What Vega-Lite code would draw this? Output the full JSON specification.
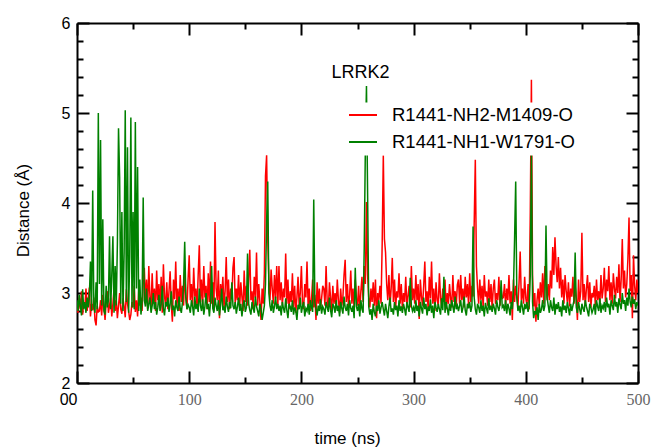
{
"$schema": "https://vega.github.io/schema/vega-lite/v6.json",
"width": 561, "height": 360,
"autosize": {"type": "none"},
"padding": {"left": 77, "top": 23, "right": 24, "bottom": 65},
"background": "white",
"config": {"view": {"stroke": null}, "font": "Liberation Sans"},
"title": {"text": "LRRK2", "fontSize": 18, "fontWeight": "normal", "font": "Liberation Sans", "color": "black", "anchor": "middle", "frame": "group", "baseline": "alphabetic", "offset": 0, "dy": 81, "dx": 3},
"data": {"values": [
{"t":0,"a":2.85,"b":2.92},{"t":1,"a":2.78,"b":2.80},{"t":2,"a":2.95,"b":2.98},{"t":3,"a":2.82,"b":2.86},{"t":4,"a":3.02,"b":2.75},{"t":5,"a":2.76,"b":3.04},{"t":6,"a":2.90,"b":2.82},{"t":7,"a":2.84,"b":2.90},{"t":8,"a":3.05,"b":2.78},{"t":9,"a":2.80,"b":2.95},
{"t":10,"a":2.92,"b":2.84},{"t":11,"a":3.06,"b":2.96},{"t":12,"a":2.74,"b":3.35},{"t":13,"a":2.88,"b":2.80},{"t":14,"a":2.81,"b":4.14},{"t":15,"a":2.95,"b":2.85},{"t":16,"a":2.70,"b":2.78},{"t":17,"a":2.64,"b":3.12},{"t":18,"a":2.86,"b":2.82},{"t":19,"a":2.79,"b":5.00},
{"t":20,"a":2.80,"b":3.10},{"t":21,"a":2.92,"b":4.70},{"t":22,"a":2.75,"b":2.86},{"t":23,"a":2.98,"b":3.82},{"t":24,"a":2.84,"b":2.80},{"t":25,"a":2.70,"b":2.76},{"t":26,"a":2.90,"b":3.08},{"t":27,"a":3.02,"b":2.84},{"t":28,"a":2.78,"b":2.92},{"t":29,"a":2.86,"b":3.63},
{"t":30,"a":2.95,"b":2.82},{"t":31,"a":2.74,"b":3.20},{"t":32,"a":2.88,"b":3.63},{"t":33,"a":3.05,"b":2.78},{"t":34,"a":2.80,"b":3.30},{"t":35,"a":2.92,"b":2.86},{"t":36,"a":2.72,"b":3.55},{"t":37,"a":2.86,"b":4.83},{"t":38,"a":3.00,"b":4.29},{"t":39,"a":2.82,"b":2.88},
{"t":40,"a":2.77,"b":3.90},{"t":41,"a":2.94,"b":2.80},{"t":42,"a":2.85,"b":3.45},{"t":43,"a":2.73,"b":5.03},{"t":44,"a":3.04,"b":2.90},{"t":45,"a":2.88,"b":4.62},{"t":46,"a":2.80,"b":2.78},{"t":47,"a":2.70,"b":3.40},{"t":48,"a":2.76,"b":4.95},{"t":49,"a":2.90,"b":2.84},
{"t":50,"a":2.84,"b":3.90},{"t":51,"a":3.08,"b":2.82},{"t":52,"a":2.79,"b":4.90},{"t":53,"a":2.92,"b":3.05},{"t":54,"a":2.74,"b":4.40},{"t":55,"a":3.02,"b":2.80},{"t":56,"a":2.86,"b":3.15},{"t":57,"a":2.95,"b":2.76},{"t":58,"a":2.80,"b":2.90},{"t":59,"a":3.10,"b":4.06},
{"t":60,"a":3.28,"b":2.92},{"t":61,"a":2.90,"b":2.85},{"t":62,"a":3.15,"b":3.05},{"t":63,"a":2.82,"b":2.80},{"t":64,"a":3.30,"b":2.88},{"t":65,"a":2.95,"b":2.95},{"t":66,"a":2.85,"b":2.78},{"t":67,"a":3.22,"b":2.86},{"t":68,"a":2.88,"b":3.00},{"t":69,"a":3.05,"b":2.82},
{"t":70,"a":2.80,"b":2.90},{"t":71,"a":3.25,"b":2.76},{"t":72,"a":2.92,"b":2.84},{"t":73,"a":3.10,"b":2.98},{"t":74,"a":2.84,"b":2.80},{"t":75,"a":3.18,"b":2.87},{"t":76,"a":2.78,"b":3.08},{"t":77,"a":3.32,"b":2.83},{"t":78,"a":2.96,"b":2.75},{"t":79,"a":2.86,"b":2.90},
{"t":80,"a":3.12,"b":2.85},{"t":81,"a":2.82,"b":2.95},{"t":82,"a":3.02,"b":2.79},{"t":83,"a":3.24,"b":2.88},{"t":84,"a":2.88,"b":3.02},{"t":85,"a":2.68,"b":2.81},{"t":86,"a":3.15,"b":2.86},{"t":87,"a":2.93,"b":2.74},{"t":88,"a":3.35,"b":2.92},{"t":89,"a":2.85,"b":2.84},
{"t":90,"a":3.05,"b":2.80},{"t":91,"a":2.80,"b":2.96},{"t":92,"a":3.20,"b":2.83},{"t":93,"a":2.90,"b":2.78},{"t":94,"a":3.08,"b":2.90},{"t":95,"a":2.86,"b":3.10},{"t":96,"a":3.26,"b":3.57},{"t":97,"a":2.95,"b":2.95},{"t":98,"a":2.82,"b":2.82},{"t":99,"a":3.15,"b":2.87},
{"t":100,"a":3.42,"b":2.84},{"t":101,"a":2.92,"b":2.78},{"t":102,"a":3.10,"b":2.92},{"t":103,"a":2.85,"b":2.85},{"t":104,"a":3.28,"b":2.75},{"t":105,"a":2.96,"b":2.96},{"t":106,"a":3.05,"b":2.82},{"t":107,"a":2.83,"b":2.88},{"t":108,"a":3.20,"b":2.79},{"t":109,"a":3.53,"b":3.05},
{"t":110,"a":2.90,"b":2.86},{"t":111,"a":3.15,"b":2.80},{"t":112,"a":2.86,"b":2.93},{"t":113,"a":3.30,"b":2.76},{"t":114,"a":2.95,"b":2.85},{"t":115,"a":3.08,"b":3.00},{"t":116,"a":2.82,"b":2.82},{"t":117,"a":3.22,"b":2.88},{"t":118,"a":2.90,"b":2.74},{"t":119,"a":3.35,"b":2.90},
{"t":120,"a":2.88,"b":3.30},{"t":121,"a":3.12,"b":2.83},{"t":122,"a":2.80,"b":2.78},{"t":123,"a":3.79,"b":2.95},{"t":124,"a":3.05,"b":2.86},{"t":125,"a":2.92,"b":2.80},{"t":126,"a":3.25,"b":2.92},{"t":127,"a":2.72,"b":2.75},{"t":128,"a":3.10,"b":2.87},{"t":129,"a":2.96,"b":3.05},
{"t":130,"a":3.18,"b":2.81},{"t":131,"a":2.84,"b":2.84},{"t":132,"a":3.02,"b":2.78},{"t":133,"a":3.40,"b":2.96},{"t":134,"a":2.90,"b":2.85},{"t":135,"a":3.15,"b":2.79},{"t":136,"a":2.82,"b":2.90},{"t":137,"a":3.05,"b":2.83},{"t":138,"a":2.95,"b":3.12},{"t":139,"a":3.28,"b":2.86},
{"t":140,"a":3.40,"b":2.82},{"t":141,"a":2.88,"b":2.90},{"t":142,"a":3.05,"b":2.77},{"t":143,"a":2.92,"b":2.85},{"t":144,"a":3.20,"b":2.95},{"t":145,"a":2.84,"b":2.80},{"t":146,"a":3.12,"b":2.88},{"t":147,"a":2.96,"b":2.74},{"t":148,"a":2.80,"b":2.86},{"t":149,"a":3.25,"b":2.92},
{"t":150,"a":2.90,"b":2.79},{"t":151,"a":3.08,"b":2.84},{"t":152,"a":2.86,"b":3.44},{"t":153,"a":3.15,"b":2.88},{"t":154,"a":3.48,"b":2.81},{"t":155,"a":2.92,"b":2.76},{"t":156,"a":3.02,"b":2.90},{"t":157,"a":2.82,"b":2.83},{"t":158,"a":3.18,"b":2.78},{"t":159,"a":2.95,"b":2.96},
{"t":160,"a":3.45,"b":2.85},{"t":161,"a":2.86,"b":2.80},{"t":162,"a":3.10,"b":2.74},{"t":163,"a":2.90,"b":2.88},{"t":164,"a":2.70,"b":2.82},{"t":165,"a":3.05,"b":2.70},{"t":166,"a":2.88,"b":2.78},{"t":167,"a":3.22,"b":2.86},{"t":168,"a":4.30,"b":3.10},{"t":169,"a":4.53,"b":3.80},
{"t":170,"a":3.60,"b":4.24},{"t":171,"a":3.15,"b":3.00},{"t":172,"a":2.92,"b":2.86},{"t":173,"a":3.26,"b":2.80},{"t":174,"a":3.05,"b":2.92},{"t":175,"a":2.88,"b":2.78},{"t":176,"a":3.20,"b":2.85},{"t":177,"a":2.94,"b":2.96},{"t":178,"a":3.30,"b":2.82},{"t":179,"a":2.86,"b":2.88},
{"t":180,"a":3.30,"b":2.80},{"t":181,"a":2.92,"b":2.86},{"t":182,"a":3.12,"b":2.75},{"t":183,"a":2.86,"b":2.90},{"t":184,"a":3.05,"b":2.83},{"t":185,"a":2.95,"b":2.78},{"t":186,"a":3.44,"b":2.94},{"t":187,"a":2.88,"b":2.81},{"t":188,"a":3.15,"b":2.72},{"t":189,"a":2.82,"b":2.88},
{"t":190,"a":3.02,"b":2.85},{"t":191,"a":2.90,"b":2.79},{"t":192,"a":3.22,"b":2.92},{"t":193,"a":2.84,"b":2.76},{"t":194,"a":3.08,"b":2.84},{"t":195,"a":2.78,"b":2.80},{"t":196,"a":2.95,"b":2.70},{"t":197,"a":3.18,"b":2.87},{"t":198,"a":2.86,"b":2.82},{"t":199,"a":3.00,"b":2.95},
{"t":200,"a":3.30,"b":2.78},{"t":201,"a":2.88,"b":2.85},{"t":202,"a":2.82,"b":2.90},{"t":203,"a":3.10,"b":2.74},{"t":204,"a":2.95,"b":2.83},{"t":205,"a":3.35,"b":2.80},{"t":206,"a":2.85,"b":2.88},{"t":207,"a":3.05,"b":2.76},{"t":208,"a":2.80,"b":2.92},{"t":209,"a":2.92,"b":2.84},
{"t":210,"a":3.15,"b":2.79},{"t":211,"a":2.84,"b":4.04},{"t":212,"a":2.98,"b":2.90},{"t":213,"a":2.70,"b":2.82},{"t":214,"a":3.12,"b":2.75},{"t":215,"a":2.88,"b":2.86},{"t":216,"a":3.05,"b":2.80},{"t":217,"a":2.82,"b":2.93},{"t":218,"a":2.94,"b":2.77},{"t":219,"a":3.08,"b":2.85},
{"t":220,"a":3.05,"b":2.82},{"t":221,"a":2.86,"b":2.76},{"t":222,"a":3.30,"b":2.90},{"t":223,"a":2.90,"b":2.84},{"t":224,"a":2.82,"b":2.79},{"t":225,"a":3.12,"b":2.95},{"t":226,"a":2.95,"b":2.81},{"t":227,"a":2.80,"b":2.73},{"t":228,"a":3.08,"b":2.88},{"t":229,"a":2.88,"b":2.85},
{"t":230,"a":3.00,"b":2.78},{"t":231,"a":2.84,"b":2.92},{"t":232,"a":3.15,"b":2.80},{"t":233,"a":2.92,"b":2.86},{"t":234,"a":2.78,"b":2.74},{"t":235,"a":3.05,"b":2.90},{"t":236,"a":2.86,"b":2.83},{"t":237,"a":2.96,"b":2.77},{"t":238,"a":3.20,"b":2.96},{"t":239,"a":3.37,"b":2.84},
{"t":240,"a":2.90,"b":2.80},{"t":241,"a":3.10,"b":2.88},{"t":242,"a":2.84,"b":2.75},{"t":243,"a":2.98,"b":2.92},{"t":244,"a":3.25,"b":2.83},{"t":245,"a":2.88,"b":2.79},{"t":246,"a":3.05,"b":2.86},{"t":247,"a":2.82,"b":2.72},{"t":248,"a":3.15,"b":3.28},{"t":249,"a":2.94,"b":2.85},
{"t":250,"a":2.86,"b":2.80},{"t":251,"a":3.08,"b":2.88},{"t":252,"a":2.80,"b":2.74},{"t":253,"a":3.02,"b":2.92},{"t":254,"a":3.18,"b":2.82},{"t":255,"a":2.90,"b":2.78},{"t":256,"a":3.30,"b":3.50},{"t":257,"a":3.10,"b":4.60},{"t":258,"a":4.01,"b":5.30},{"t":259,"a":3.20,"b":4.10},
{"t":260,"a":2.95,"b":2.85},{"t":261,"a":2.84,"b":2.76},{"t":262,"a":3.05,"b":2.82},{"t":263,"a":2.90,"b":2.70},{"t":264,"a":3.12,"b":2.88},{"t":265,"a":2.86,"b":2.79},{"t":266,"a":3.15,"b":2.74},{"t":267,"a":2.72,"b":2.86},{"t":268,"a":3.00,"b":2.80},{"t":269,"a":2.92,"b":2.92},
{"t":270,"a":3.08,"b":2.77},{"t":271,"a":2.88,"b":2.84},{"t":272,"a":3.55,"b":2.90},{"t":273,"a":4.53,"b":2.82},{"t":274,"a":3.60,"b":2.75},{"t":275,"a":3.45,"b":2.88},{"t":276,"a":3.10,"b":2.80},{"t":277,"a":2.92,"b":2.72},{"t":278,"a":3.20,"b":2.85},{"t":279,"a":2.86,"b":2.95},
{"t":280,"a":3.05,"b":2.79},{"t":281,"a":3.39,"b":2.83},{"t":282,"a":2.90,"b":2.76},{"t":283,"a":3.15,"b":2.90},{"t":284,"a":2.84,"b":2.81},{"t":285,"a":3.02,"b":2.86},{"t":286,"a":2.95,"b":2.74},{"t":287,"a":3.22,"b":2.92},{"t":288,"a":2.88,"b":2.80},{"t":289,"a":3.10,"b":2.85},
{"t":290,"a":2.82,"b":2.78},{"t":291,"a":3.00,"b":2.88},{"t":292,"a":2.90,"b":2.82},{"t":293,"a":3.18,"b":2.75},{"t":294,"a":2.86,"b":2.90},{"t":295,"a":2.96,"b":2.84},{"t":296,"a":3.08,"b":2.79},{"t":297,"a":2.84,"b":3.17},{"t":298,"a":3.30,"b":2.86},{"t":299,"a":2.92,"b":2.80},
{"t":300,"a":3.05,"b":2.84},{"t":301,"a":2.88,"b":2.78},{"t":302,"a":3.20,"b":2.92},{"t":303,"a":2.92,"b":2.80},{"t":304,"a":3.10,"b":2.86},{"t":305,"a":2.71,"b":2.74},{"t":306,"a":3.15,"b":2.90},{"t":307,"a":2.96,"b":2.83},{"t":308,"a":2.86,"b":2.77},{"t":309,"a":3.08,"b":2.95},
{"t":310,"a":3.35,"b":2.82},{"t":311,"a":2.90,"b":2.88},{"t":312,"a":3.02,"b":2.75},{"t":313,"a":2.82,"b":2.85},{"t":314,"a":3.18,"b":2.80},{"t":315,"a":2.94,"b":2.93},{"t":316,"a":3.35,"b":2.78},{"t":317,"a":2.88,"b":2.86},{"t":318,"a":3.05,"b":2.72},{"t":319,"a":2.80,"b":2.90},
{"t":320,"a":3.12,"b":2.84},{"t":321,"a":2.92,"b":2.79},{"t":322,"a":2.86,"b":2.88},{"t":323,"a":3.22,"b":2.82},{"t":324,"a":2.95,"b":2.76},{"t":325,"a":2.84,"b":2.94},{"t":326,"a":3.05,"b":2.81},{"t":327,"a":2.90,"b":3.18},{"t":328,"a":3.15,"b":2.78},{"t":329,"a":2.82,"b":2.90},
{"t":330,"a":3.00,"b":2.83},{"t":331,"a":2.88,"b":2.75},{"t":332,"a":3.10,"b":2.88},{"t":333,"a":2.94,"b":2.80},{"t":334,"a":2.84,"b":2.92},{"t":335,"a":3.20,"b":2.85},{"t":336,"a":2.90,"b":2.78},{"t":337,"a":3.02,"b":2.96},{"t":338,"a":2.86,"b":2.82},{"t":339,"a":3.09,"b":2.86},
{"t":340,"a":3.15,"b":2.80},{"t":341,"a":2.88,"b":2.86},{"t":342,"a":3.20,"b":2.92},{"t":343,"a":2.92,"b":2.78},{"t":344,"a":3.05,"b":2.84},{"t":345,"a":2.84,"b":2.96},{"t":346,"a":3.18,"b":2.81},{"t":347,"a":2.95,"b":2.75},{"t":348,"a":3.10,"b":2.88},{"t":349,"a":2.86,"b":2.83},
{"t":350,"a":3.22,"b":2.90},{"t":351,"a":2.90,"b":2.79},{"t":352,"a":3.08,"b":2.86},{"t":353,"a":2.96,"b":3.74},{"t":354,"a":3.77,"b":2.95},{"t":355,"a":4.48,"b":2.82},{"t":356,"a":3.30,"b":2.76},{"t":357,"a":3.05,"b":2.88},{"t":358,"a":2.88,"b":2.84},{"t":359,"a":3.15,"b":2.78},
{"t":360,"a":2.92,"b":2.92},{"t":361,"a":3.08,"b":2.80},{"t":362,"a":2.84,"b":2.86},{"t":363,"a":3.20,"b":2.74},{"t":364,"a":2.96,"b":2.89},{"t":365,"a":3.02,"b":2.83},{"t":366,"a":2.86,"b":2.77},{"t":367,"a":3.15,"b":2.94},{"t":368,"a":2.90,"b":2.81},{"t":369,"a":3.10,"b":2.86},
{"t":370,"a":2.82,"b":2.79},{"t":371,"a":3.05,"b":2.88},{"t":372,"a":3.15,"b":2.83},{"t":373,"a":2.88,"b":2.76},{"t":374,"a":3.00,"b":2.92},{"t":375,"a":2.92,"b":2.85},{"t":376,"a":3.18,"b":2.80},{"t":377,"a":2.86,"b":2.88},{"t":378,"a":3.05,"b":3.14},{"t":379,"a":2.94,"b":2.84},
{"t":380,"a":2.95,"b":2.86},{"t":381,"a":3.10,"b":2.80},{"t":382,"a":2.86,"b":2.92},{"t":383,"a":3.05,"b":2.77},{"t":384,"a":2.92,"b":2.88},{"t":385,"a":3.20,"b":2.83},{"t":386,"a":2.88,"b":2.75},{"t":387,"a":3.02,"b":2.90},{"t":388,"a":2.70,"b":2.82},{"t":389,"a":3.15,"b":3.05},
{"t":390,"a":2.90,"b":3.60},{"t":391,"a":3.08,"b":4.24},{"t":392,"a":2.96,"b":2.95},{"t":393,"a":2.85,"b":2.80},{"t":394,"a":3.12,"b":2.86},{"t":395,"a":3.46,"b":2.78},{"t":396,"a":2.92,"b":2.92},{"t":397,"a":3.05,"b":2.84},{"t":398,"a":2.88,"b":2.76},{"t":399,"a":3.18,"b":2.88},
{"t":400,"a":2.94,"b":2.82},{"t":401,"a":2.86,"b":2.90},{"t":402,"a":3.10,"b":2.79},{"t":403,"a":2.82,"b":2.86},{"t":404,"a":3.90,"b":3.20},{"t":405,"a":5.37,"b":4.54},{"t":406,"a":3.20,"b":2.90},{"t":407,"a":2.85,"b":2.72},{"t":408,"a":3.00,"b":2.80},{"t":409,"a":2.68,"b":2.76},
{"t":410,"a":2.92,"b":2.84},{"t":411,"a":3.05,"b":2.70},{"t":412,"a":2.86,"b":2.88},{"t":413,"a":3.12,"b":2.78},{"t":414,"a":2.95,"b":2.82},{"t":415,"a":3.22,"b":2.92},{"t":416,"a":2.88,"b":2.80},{"t":417,"a":3.30,"b":2.86},{"t":418,"a":3.15,"b":3.75},{"t":419,"a":2.92,"b":2.95},
{"t":420,"a":3.10,"b":2.86},{"t":421,"a":2.92,"b":2.78},{"t":422,"a":3.25,"b":2.92},{"t":423,"a":3.05,"b":2.84},{"t":424,"a":3.51,"b":2.80},{"t":425,"a":3.20,"b":2.95},{"t":426,"a":3.62,"b":2.76},{"t":427,"a":3.30,"b":2.88},{"t":428,"a":3.12,"b":2.82},{"t":429,"a":3.40,"b":2.90},
{"t":430,"a":3.05,"b":2.79},{"t":431,"a":3.28,"b":2.85},{"t":432,"a":2.95,"b":2.74},{"t":433,"a":3.15,"b":2.92},{"t":434,"a":2.88,"b":2.81},{"t":435,"a":3.20,"b":2.86},{"t":436,"a":3.02,"b":2.78},{"t":437,"a":2.90,"b":2.90},{"t":438,"a":3.12,"b":2.83},{"t":439,"a":2.85,"b":2.75},
{"t":440,"a":3.05,"b":2.88},{"t":441,"a":2.96,"b":2.80},{"t":442,"a":3.18,"b":2.86},{"t":443,"a":2.88,"b":2.92},{"t":444,"a":3.08,"b":3.45},{"t":445,"a":2.94,"b":2.84},{"t":446,"a":2.70,"b":2.78},{"t":447,"a":3.15,"b":2.90},{"t":448,"a":2.90,"b":2.82},{"t":449,"a":3.02,"b":2.76},
{"t":450,"a":3.67,"b":2.88},{"t":451,"a":2.92,"b":2.83},{"t":452,"a":3.10,"b":2.79},{"t":453,"a":2.86,"b":2.92},{"t":454,"a":3.05,"b":2.85},{"t":455,"a":3.20,"b":2.80},{"t":456,"a":2.90,"b":2.74},{"t":457,"a":3.12,"b":2.88},{"t":458,"a":2.84,"b":2.84},{"t":459,"a":3.00,"b":2.78},
{"t":460,"a":2.95,"b":2.82},{"t":461,"a":3.08,"b":2.88},{"t":462,"a":2.86,"b":2.76},{"t":463,"a":3.15,"b":2.92},{"t":464,"a":2.92,"b":2.85},{"t":465,"a":3.02,"b":2.80},{"t":466,"a":2.88,"b":2.94},{"t":467,"a":3.20,"b":2.78},{"t":468,"a":2.94,"b":2.86},{"t":469,"a":3.05,"b":2.83},
{"t":470,"a":3.28,"b":2.90},{"t":471,"a":2.90,"b":2.79},{"t":472,"a":3.15,"b":2.95},{"t":473,"a":3.02,"b":2.84},{"t":474,"a":3.30,"b":2.88},{"t":475,"a":2.92,"b":2.76},{"t":476,"a":3.12,"b":2.92},{"t":477,"a":2.88,"b":2.86},{"t":478,"a":3.22,"b":2.81},{"t":479,"a":3.05,"b":2.98},
{"t":480,"a":2.94,"b":2.85},{"t":481,"a":3.18,"b":2.90},{"t":482,"a":3.00,"b":2.78},{"t":483,"a":3.32,"b":2.94},{"t":484,"a":2.90,"b":2.87},{"t":485,"a":3.15,"b":2.82},{"t":486,"a":3.60,"b":3.00},{"t":487,"a":3.05,"b":2.88},{"t":488,"a":3.25,"b":2.92},{"t":489,"a":2.95,"b":2.80},
{"t":490,"a":3.10,"b":2.95},{"t":491,"a":3.38,"b":2.86},{"t":492,"a":3.84,"b":3.05},{"t":493,"a":3.02,"b":2.90},{"t":494,"a":3.20,"b":2.84},{"t":495,"a":2.72,"b":2.96},{"t":496,"a":3.42,"b":2.88},{"t":497,"a":3.08,"b":2.93},{"t":498,"a":2.92,"b":2.82},{"t":499,"a":3.15,"b":2.90},
{"t":500,"a":3.00,"b":2.86}
]},
"layer": [
{
"mark": {"type": "line", "strokeWidth": 1.5, "clip": true},
"encoding": {
"x": {"field": "t", "type": "quantitative", "scale": {"domain": [0, 500], "nice": false, "zero": false},
 "axis": {"orient": "bottom", "title": "time (ns)", "grid": false,
  "values": [0,50,100,150,200,250,300,350,400,450,500],
  "labelExpr": "datum.value % 100 === 0 ? (datum.value === 0 ? '00' : format(datum.value, 'd')) : ''",
  "domainColor": "black", "domainWidth": 2, "tickColor": "black", "tickWidth": 2,
  "tickSize": {"condition": {"test": "datum.value % 100 === 0", "value": -12}, "value": -6},
  "labelFont": {"condition": {"test": "datum.value === 0", "value": "Liberation Sans"}, "value": "Liberation Serif"},
  "labelColor": {"condition": {"test": "datum.value === 0", "value": "#000000"}, "value": "#666666"},
  "labelAlign": {"condition": {"test": "datum.value === 0", "value": "right"}, "value": "center"},
  "labelFontSize": 16, "labelPadding": 20, "labelBaseline": "top", "labelFlush": false, "labelOverlap": false,
  "titleFont": "Liberation Sans", "titleFontSize": 17, "titleFontWeight": "normal", "titleColor": "black",
  "titleX": 270, "titleY": 60, "titleBaseline": "alphabetic", "titleAlign": "center"}},
"y": {"field": "a", "type": "quantitative", "scale": {"domain": [2, 6], "nice": false, "zero": false},
 "axis": {"orient": "left", "title": "Distance (Å)", "grid": false,
  "values": [2,2.2,2.4,2.6,2.8,3,3.2,3.4,3.6,3.8,4,4.2,4.4,4.6,4.8,5,5.2,5.4,5.6,5.8,6],
  "labelExpr": "datum.value % 1 === 0 ? format(datum.value, 'd') : ''",
  "domainColor": "black", "domainWidth": 2, "tickColor": "black", "tickWidth": 2,
  "tickSize": {"condition": {"test": "datum.value % 1 === 0", "value": -12}, "value": -6},
  "labelFont": "Liberation Sans", "labelColor": "black", "labelFontSize": 16, "labelPadding": 19,
  "labelFlush": false, "labelOverlap": false, "labelBaseline": "middle",
  "titleFont": "Liberation Sans", "titleFontSize": 17, "titleFontWeight": "normal", "titleColor": "black",
  "titleX": -49, "titleY": 187, "titleBaseline": "alphabetic", "titleAlign": "center", "titleAngle": -90}},
"color": {"datum": "R1441-NH2-M1409-O", "type": "nominal",
 "scale": {"domain": ["R1441-NH2-M1409-O", "R1441-NH1-W1791-O"], "range": ["#ff0000", "#008000"]},
 "legend": {"orient": "none", "legendX": 267, "legendY": 79.5, "title": null, "fillColor": "white", "padding": 4,
  "symbolType": "stroke", "symbolSize": 784, "symbolStrokeWidth": 2, "labelFontSize": 18.5, "labelFont": "Liberation Sans",
  "labelColor": "black", "labelOffset": 14, "labelLimit": 400, "rowPadding": 8, "clipHeight": 17}}
}
},
{
"mark": {"type": "line", "strokeWidth": 1.5, "clip": true},
"encoding": {
"x": {"field": "t", "type": "quantitative",
 "axis": {"orient": "top", "title": null, "grid": false, "labels": false,
  "values": [0,50,100,150,200,250,300,350,400,450,500],
  "domainColor": "black", "domainWidth": 2, "tickColor": "black", "tickWidth": 2,
  "tickSize": {"condition": {"test": "datum.value % 100 === 0", "value": -12}, "value": -6}}},
"y": {"field": "b", "type": "quantitative",
 "axis": {"orient": "right", "title": null, "grid": false, "labels": false,
  "values": [2,2.2,2.4,2.6,2.8,3,3.2,3.4,3.6,3.8,4,4.2,4.4,4.6,4.8,5,5.2,5.4,5.6,5.8,6],
  "domainColor": "black", "domainWidth": 2, "tickColor": "black", "tickWidth": 2,
  "tickSize": {"condition": {"test": "datum.value % 1 === 0", "value": -12}, "value": -6}}},
"color": {"datum": "R1441-NH1-W1791-O", "type": "nominal"}
}
}
],
"resolve": {"axis": {"x": "independent", "y": "independent"}}
}
